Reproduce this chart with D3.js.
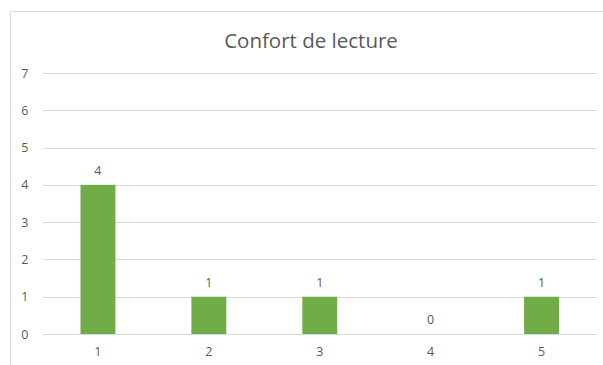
<!DOCTYPE html>
<html>
<head>
<meta charset="utf-8">
<script src="https://cdn.jsdelivr.net/npm/d3@7"></script>
<style>
  html, body { margin: 0; padding: 0; background: #fff; }
  svg { display: block; }
  text { font-family: "Open Sans", "Liberation Sans", sans-serif; fill: #595959; }
</style>
</head>
<body>
<svg id="chart" width="603" height="365"></svg>
<script>
const title = "Confort de lecture";
const categories = ["1", "2", "3", "4", "5"];
const values = [4, 1, 1, 0, 1];
const yTicks = [0, 1, 2, 3, 4, 5, 6, 7];

const W = 603, H = 365;
const margin = { left: 42.5, right: 6, top: 73, bottom: 31 };
const svg = d3.select("#chart");

// chart frame
svg.append("rect")
  .attr("x", 10.5).attr("y", 11.5)
  .attr("width", W + 10).attr("height", H + 10)
  .attr("fill", "#fff").attr("stroke", "#d9d9d9").attr("stroke-width", 1);

const x = d3.scaleBand()
  .domain(categories)
  .range([margin.left, W - margin.right])
  .paddingInner(0.685).paddingOuter(0.3425);

const y = d3.scaleLinear()
  .domain([0, 7])
  .range([H - margin.bottom, margin.top]);

// horizontal gridlines
svg.append("g")
  .selectAll("line")
  .data(yTicks)
  .join("line")
  .attr("x1", margin.left).attr("x2", W - margin.right)
  .attr("y1", d => Math.round(y(d)) + 0.5).attr("y2", d => Math.round(y(d)) + 0.5)
  .attr("stroke", "#d9d9d9").attr("stroke-width", 1);

// y axis labels
const yAxis = d3.axisLeft(y).tickValues(yTicks).tickFormat(d3.format("d")).tickSize(0).tickPadding(0);
const gy = svg.append("g").attr("transform", `translate(${margin.left - 14},0)`).call(yAxis);
gy.select(".domain").remove();
gy.selectAll("text").style("font-size", "12.5px").attr("fill", "#595959");

// x axis labels
const xAxis = d3.axisBottom(x).tickSize(0).tickPadding(0);
const gx = svg.append("g").attr("transform", `translate(0,${H - margin.bottom + 13})`).call(xAxis);
gx.select(".domain").remove();
gx.selectAll("text").style("font-size", "12.5px").attr("fill", "#595959");

// bars
svg.append("g")
  .selectAll("rect")
  .data(values)
  .join("rect")
  .attr("x", (d, i) => x(categories[i]))
  .attr("width", x.bandwidth())
  .attr("y", d => y(d))
  .attr("height", d => y(0) - y(d))
  .attr("fill", "#70ad47");

// value labels
svg.append("g")
  .selectAll("text")
  .data(values)
  .join("text")
  .attr("x", (d, i) => x(categories[i]) + x.bandwidth() / 2)
  .attr("y", d => y(d) - 10)
  .attr("text-anchor", "middle")
  .style("font-size", "12.5px")
  .text(d => d);

// title
svg.append("text")
  .attr("x", 311).attr("y", 48)
  .attr("text-anchor", "middle")
  .style("font-size", "20.5px")
  .text(title);
</script>
</body>
</html>
